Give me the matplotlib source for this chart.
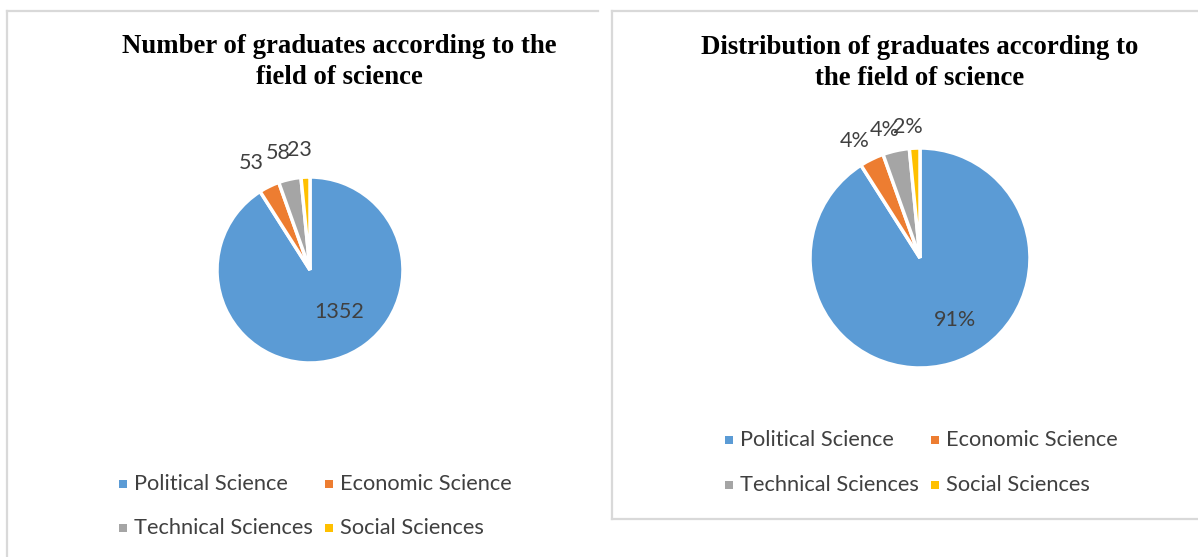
import matplotlib.pyplot as plt
from matplotlib.patches import Rectangle
from matplotlib.lines import Line2D
import numpy as np

fields = ["Political Science", "Economic Science", "Technical Sciences", "Social Sciences"]
graduates = [1352, 53, 58, 23]
colors = ["#5B9BD5", "#ED7D31", "#A5A5A5", "#FFC000"]

TEXT_COLOR = "#404040"
LABEL_FONT = ["Lato", "DejaVu Sans"]
TITLE_FONT = ["Liberation Serif", "DejaVu Serif"]

W, H = 1198, 557
fig = plt.figure(figsize=(W / 100, H / 100), dpi=100)


def fx(x):
    return x / W


def fy(y):
    return 1 - y / H


def seg(x0, y0, x1, y1):
    fig.lines.append(Line2D([fx(x0), fx(x1)], [fy(y0), fy(y1)], transform=fig.transFigure,
                            color="#D9D9D9", linewidth=1.6))


# panel frames
seg(7, 11, 7, 560)
seg(7, 11, 598, 11)
seg(612, 11, 612, 519)
seg(612, 11, 1200, 11)
seg(612, 519, 1200, 519)


def draw_pie(cx, cy, rad, title, title_xy, label_fn, inside_shift, outside_r):
    ax = fig.add_axes([fx(cx - rad), fy(cy + rad), 2 * rad / W, 2 * rad / H])
    wedges, _ = ax.pie(graduates, colors=colors, startangle=90, counterclock=False,
                       wedgeprops=dict(edgecolor="white", linewidth=2.5))
    ax.set_xlim(-1, 1)
    ax.set_ylim(-1, 1)
    total = sum(graduates)
    for i, w in enumerate(wedges):
        ang = np.deg2rad((w.theta1 + w.theta2) / 2)
        if i == 0:
            x = 0.47 * np.cos(ang) + inside_shift[0]
            y = 0.47 * np.sin(ang) + inside_shift[1]
        else:
            x = outside_r * np.cos(ang) - 0.05
            y = outside_r * np.sin(ang) - 0.04
        ax.text(x, y, label_fn(graduates[i], total), ha="center", va="center",
                fontsize=15.5, color=TEXT_COLOR, family=LABEL_FONT, clip_on=False)
    fig.text(fx(title_xy[0]), fy(title_xy[1]), title, ha="center", va="center",
             fontsize=19.3, fontweight="bold", family=TITLE_FONT, linespacing=1.3)


# left chart: counts
draw_pie(310, 270, 93, "Number of graduates according to the\nfield of science", (339, 62),
         lambda v, t: f"{v}", (0.18, 0.0), 1.33)
# right chart: percentages
draw_pie(920, 258, 110, "Distribution of graduates according to\nthe field of science", (920, 63),
         lambda v, t: f"{round(100 * v / t)}%", (0.19, -0.11), 1.23)


def legend(x_cols, ys):
    k = 0
    for y in ys:
        for x in x_cols:
            fig.patches.append(Rectangle((fx(x - 4), fy(y + 4)), 8 / W, 8 / H,
                                         transform=fig.transFigure, facecolor=colors[k],
                                         edgecolor="none"))
            fig.text(fx(x + 11), fy(y), fields[k], ha="left", va="center",
                     fontsize=15.7, color=TEXT_COLOR, family=LABEL_FONT)
            k += 1


legend([123, 329], [484, 528])
legend([729, 935], [440, 485])

fig.savefig("out.png", dpi=100, facecolor="white")
